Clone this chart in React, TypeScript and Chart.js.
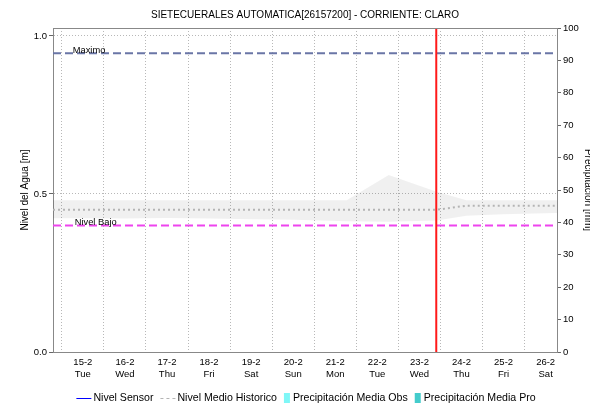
import React, { useEffect, useRef } from "react";
import { Chart, registerables } from "chart.js";

Chart.register(...registerables);

const FONT = "Arial, 'Liberation Sans', sans-serif";

const TITLE = "SIETECUERALES AUTOMATICA[26157200] - CORRIENTE: CLARO";
const LEFT_TITLE = "Nivel del Agua [m]";
const RIGHT_TITLE = "Precipitación [mm]";

// x axis: days, 0 = 15-2
const DAY_LABELS = ["15-2", "16-2", "17-2", "18-2", "19-2", "20-2", "21-2", "22-2", "23-2", "24-2", "25-2", "26-2"];
const WEEKDAYS = ["Tue", "Wed", "Thu", "Fri", "Sat", "Sun", "Mon", "Tue", "Wed", "Thu", "Fri", "Sat"];
const X_MIN = -0.71;
const X_MAX = 11.27;

const LEVEL_TICKS = [0, 0.5, 1.0];
const LEVEL_MAX = 1.025;
const PRECIP_MAX = 100;
const PRECIP_STEP = 10;

const NOW_DAY = 8.4;
const MAXIMO = 0.945;
const NIVEL_BAJO = 0.4;
const REF_LABEL_DAY = -0.24;

// historical band (max/min) and mean
const BAND_DAYS = [-0.71, 0, 1, 2, 3, 4, 5, 6.27, 7.27, 8.41, 9.12, 10, 11.27];
const BAND_UPPER = [0.48, 0.48, 0.48, 0.48, 0.48, 0.48, 0.48, 0.48, 0.56, 0.507, 0.48, 0.48, 0.48];
const BAND_LOWER = [0.423, 0.423, 0.422, 0.424, 0.422, 0.42, 0.418, 0.414, 0.412, 0.416, 0.431, 0.436, 0.44];
const MEAN_DAYS = [-0.71, 8.41, 9.12, 11.27];
const MEAN_LEVEL = [0.45, 0.45, 0.463, 0.463];

// no sensor readings / precipitation visible in the period
const SENSOR_DAYS: number[] = [];
const SENSOR_LEVEL: number[] = [];
const PRECIP_DAYS: number[] = [];
const PRECIP_OBS: number[] = [];
const PRECIP_PRO: number[] = [];

const pts = (xs: number[], ys: number[]) => xs.map((x, i) => ({ x, y: ys[i] }));

const titlePlugin = {
  id: "centerTitle",
  afterDraw(chart: any) {
    const { ctx, chartArea } = chart;
    ctx.save();
    ctx.font = `10px ${FONT}`;
    ctx.fillStyle = "#000";
    ctx.textAlign = "center";
    ctx.textBaseline = "middle";
    ctx.fillText(TITLE, (chartArea.left + chartArea.right) / 2, 15);
    // top border of plot
    ctx.strokeStyle = "#888";
    ctx.lineWidth = 1;
    ctx.beginPath();
    ctx.moveTo(chartArea.left, chartArea.top + 0.5);
    ctx.lineTo(chartArea.right, chartArea.top + 0.5);
    ctx.stroke();
    ctx.restore();
  },
};

const refLabelPlugin = {
  id: "refLabels",
  afterDatasetsDraw(chart: any) {
    const { ctx, scales } = chart;
    const x = scales.x.getPixelForValue(REF_LABEL_DAY);
    ctx.save();
    ctx.font = `9.3px ${FONT}`;
    ctx.fillStyle = "#000";
    ctx.textAlign = "left";
    ctx.textBaseline = "alphabetic";
    ctx.fillText("Maximo", x, scales.y.getPixelForValue(MAXIMO));
    ctx.fillText("Nivel Bajo", x + 2, scales.y.getPixelForValue(NIVEL_BAJO) - 1);
    ctx.restore();
  },
};

const legendPlugin = {
  id: "bottomLegend",
  afterDraw(chart: any) {
    const { ctx, chartArea } = chart;
    const items = chart.data.datasets.filter((d: any) => d.legendKind);
    ctx.save();
    ctx.font = `10.6px ${FONT}`;
    ctx.textBaseline = "middle";
    ctx.textAlign = "left";
    const gap = 7;
    const widths = items.map((d: any) => (d.legendKind === "box" ? 9 : 17) + ctx.measureText(d.label).width);
    const total = widths.reduce((a: number, b: number) => a + b, 0) + gap * (items.length - 1);
    let x = (chartArea.left + chartArea.right) / 2 + 1 - total / 2;
    const y = 398;
    items.forEach((d: any) => {
      if (d.legendKind === "box") {
        ctx.fillStyle = d.backgroundColor;
        ctx.fillRect(x, y - 5, 6, 10);
        x += 9;
      } else {
        ctx.strokeStyle = d.legendColor || d.borderColor;
        ctx.lineWidth = 1;
        ctx.setLineDash(d.legendDash || []);
        ctx.beginPath();
        ctx.moveTo(x, y + 0.5);
        ctx.lineTo(x + 15, y + 0.5);
        ctx.stroke();
        ctx.setLineDash([]);
        x += 17;
      }
      ctx.fillStyle = "#000";
      ctx.fillText(d.label, x, y);
      x += ctx.measureText(d.label).width + gap;
    });
    ctx.restore();
  },
};

export default function App() {
  const ref = useRef<HTMLCanvasElement>(null);

  useEffect(() => {
    if (!ref.current) return;
    Chart.defaults.font.family = FONT;
    const chart = new Chart(ref.current, {
      type: "line",
      data: {
        datasets: [
          {
            label: "Nivel Sensor",
            data: pts(SENSOR_DAYS, SENSOR_LEVEL),
            borderColor: "#0000ff",
            borderWidth: 1.5,
            pointRadius: 0,
            yAxisID: "y",
            order: 0,
            legendKind: "line",
          } as any,
          {
            label: "Nivel Medio Historico",
            data: pts(MEAN_DAYS, MEAN_LEVEL),
            borderColor: "#b4b4b4",
            borderWidth: 2,
            borderDash: [2, 3],
            pointRadius: 0,
            yAxisID: "y",
            order: 5,
            legendKind: "line",
            legendDash: [3, 3],
          },
          {
            label: "Max Historico",
            data: pts(BAND_DAYS, BAND_UPPER),
            borderWidth: 0,
            borderColor: "rgba(0,0,0,0)",
            backgroundColor: "rgba(0,0,0,0.06)",
            fill: "+1",
            pointRadius: 0,
            yAxisID: "y",
            order: 10,
          },
          {
            label: "Min Historico",
            data: pts(BAND_DAYS, BAND_LOWER),
            borderWidth: 0,
            borderColor: "rgba(0,0,0,0)",
            pointRadius: 0,
            fill: false,
            yAxisID: "y",
            order: 10,
          },
          {
            label: "Maximo",
            data: pts([X_MIN, X_MAX], [MAXIMO, MAXIMO]),
            borderColor: "#6a76a6",
            borderWidth: 2,
            borderDash: [8, 4],
            pointRadius: 0,
            yAxisID: "y",
            order: 4,
          },
          {
            label: "Nivel Bajo",
            data: pts([X_MIN, X_MAX], [NIVEL_BAJO, NIVEL_BAJO]),
            borderColor: "#ee44ee",
            borderWidth: 2,
            borderDash: [8, 4],
            pointRadius: 0,
            yAxisID: "y",
            order: 4,
          },
          {
            label: "Ahora",
            data: pts([NOW_DAY, NOW_DAY], [0, LEVEL_MAX]),
            borderColor: "#ff1a1a",
            borderWidth: 2,
            pointRadius: 0,
            yAxisID: "y",
            order: 1,
          },
          {
            type: "bar",
            label: "Precipitación Media Obs",
            data: pts(PRECIP_DAYS, PRECIP_OBS),
            backgroundColor: "#7ff7f7",
            yAxisID: "y1",
            order: 8,
            legendKind: "box",
          } as any,
          {
            type: "bar",
            label: "Precipitación Media Pro",
            data: pts(PRECIP_DAYS, PRECIP_PRO),
            backgroundColor: "#44cccc",
            yAxisID: "y1",
            order: 8,
            legendKind: "box",
          } as any,
        ],
      },
      options: {
        responsive: false,
        animation: false,
        layout: { padding: { top: 28, left: 0, right: 0, bottom: 0 } },
        plugins: {
          legend: { display: false },
          title: { display: false },
          tooltip: { enabled: false },
        },
        scales: {
          x: {
            type: "linear",
            min: X_MIN,
            max: X_MAX,
            offset: false,
            afterBuildTicks: (s: any) => {
              s.ticks = DAY_LABELS.map((_, i) => ({ value: i }));
            },
            afterFit: (s: any) => {
              s.height = 51;
            },
            ticks: {
              autoSkip: false,
              maxRotation: 0,
              minRotation: 0,
              padding: 5,
              color: "#000",
              font: { size: 9.5, family: FONT },
              callback: (v: any) => [DAY_LABELS[v], WEEKDAYS[v]],
            },
            grid: { color: "#b8b8b8", lineWidth: 1, drawTicks: false },
            border: { display: true, color: "#888", width: 1, dash: [1, 2] },
          },
          y: {
            type: "linear",
            position: "left",
            min: 0,
            max: LEVEL_MAX,
            afterBuildTicks: (s: any) => {
              s.ticks = LEVEL_TICKS.map((v) => ({ value: v }));
            },
            afterFit: (s: any) => {
              s.width = 53;
            },
            ticks: {
              padding: 2,
              color: "#000",
              font: { size: 9.5, family: FONT },
              callback: (v: any) => Number(v).toFixed(1),
            },
            grid: {
              color: (c: any) => (c.tick && c.tick.value === 0 ? "#444" : "#b8b8b8"),
              lineWidth: 1,
              drawTicks: true,
              tickLength: 4,
              tickColor: "#666",
              tickBorderDash: [],
            },
            border: { display: true, color: "#888", width: 1, dash: [1, 2] },
            title: {
              display: true,
              text: LEFT_TITLE,
              color: "#000",
              font: { size: 10, family: FONT },
              padding: { top: 19, bottom: 0 },
            },
          },
          y1: {
            type: "linear",
            position: "right",
            min: 0,
            max: PRECIP_MAX,
            afterFit: (s: any) => {
              s.width = 33;
            },
            ticks: {
              stepSize: PRECIP_STEP,
              padding: 2,
              color: "#000",
              font: { size: 9.5, family: FONT },
            },
            grid: {
              drawOnChartArea: false,
              drawTicks: true,
              tickLength: 4,
              tickColor: "#666",
              tickBorderDash: [],
            },
            border: { display: true, color: "#888", width: 1 },
            title: {
              display: true,
              text: RIGHT_TITLE,
              color: "#000",
              font: { size: 10, family: FONT },
              padding: { top: -4, bottom: 0 },
            },
          },
        },
      },
      plugins: [titlePlugin, refLabelPlugin, legendPlugin],
    } as any);
    return () => chart.destroy();
  }, []);

  return (
    <div style={{ position: "fixed", left: 0, top: 0, width: 590, height: 403, background: "#fff" }}>
      <canvas ref={ref} width={590} height={403} style={{ display: "block" }} />
    </div>
  );
}
